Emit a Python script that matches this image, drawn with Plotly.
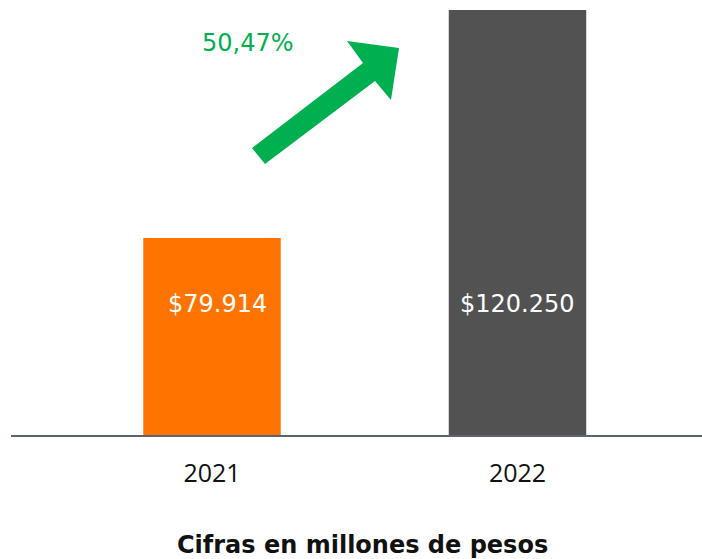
import plotly.graph_objects as go

# ---- data ----
years = ["2021", "2022"]
values = [79914, 120250]
bar_colors = ["#FF7300", "#525252"]
title_text = "Cifras en millones de pesos"

growth = (values[1] / values[0] - 1) * 100
growth_label = f"{growth:.2f}%".replace(".", ",")

def money(v):
    return "$" + f"{v:,}".replace(",", ".")

W, H = 702, 559
ML, MT, MB = 11, 0, 124
PW, PH = W - ML, H - MT - MB

y_lo, y_hi = 45064, 122019

def py_to_val(py):
    return y_hi - (py - MT) / PH * (y_hi - y_lo)

def px_to_paper(px, py):
    return (px - ML) / PW, (MT + PH - py) / PH

fig = go.Figure()
fig.add_trace(go.Bar(
    x=[0, 1], y=values, marker=dict(color=bar_colors, line=dict(width=0)),
    width=0.45, hoverinfo="skip",
))

# bar value labels
label_shift = [5, 0]
for i, v in enumerate(values):
    fig.add_annotation(x=i, y=py_to_val(304), text=money(v), showarrow=False,
                       font=dict(family="DejaVu Sans", size=24, color="white"),
                       xanchor="center", yanchor="middle", xshift=label_shift[i])

# growth label
gx, gy = px_to_paper(248, 43)
fig.add_annotation(x=gx, y=gy, xref="paper", yref="paper", text=growth_label,
                   showarrow=False, font=dict(family="DejaVu Sans", size=24, color="#00B050"),
                   xanchor="center", yanchor="middle")

# title at bottom
tx, ty = px_to_paper(363, 545)
fig.add_annotation(x=tx, y=ty, xref="paper", yref="paper", text="<b>" + title_text + "</b>",
                   showarrow=False, font=dict(family="DejaVu Sans", size=24, color="#111111"),
                   xanchor="center", yanchor="middle")

# arrow shape
arrow_px = [(252, 148), (363, 63), (347, 41), (399, 48), (391, 100), (375, 81), (265, 164)]
pts = [px_to_paper(a, b) for a, b in arrow_px]
path = "M " + " L ".join(f"{a:.4f},{b:.4f}" for a, b in pts) + " Z"
fig.add_shape(type="path", path=path, xref="paper", yref="paper",
              fillcolor="#00B050", line=dict(width=0))

fig.update_layout(
    width=W, height=H,
    margin=dict(l=ML, r=0, t=MT, b=MB),
    paper_bgcolor="white", plot_bgcolor="white",
    showlegend=False,
    xaxis=dict(range=[-0.658, 1.604], tickmode="array", tickvals=[0, 1], ticktext=years,
               showline=True, linecolor="#5B6472", linewidth=2, showgrid=False,
               zeroline=False, ticks="", ticklabelstandoff=15,
               tickfont=dict(family="Open Sans", size=25, color="#111111"),
               fixedrange=True),
    yaxis=dict(range=[y_lo, y_hi], visible=False, showgrid=False, fixedrange=True),
)

fig.write_html("out.html", config={"displayModeBar": False},
               post_script="document.body.style.margin='0';document.body.style.overflow='hidden';")
